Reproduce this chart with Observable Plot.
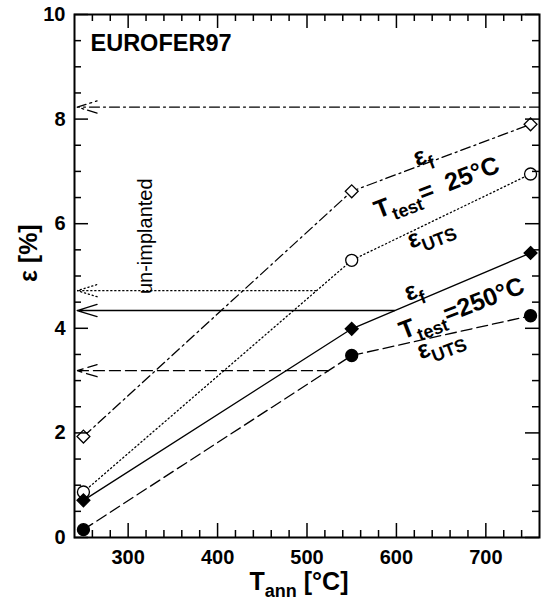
<!DOCTYPE html>
<html><head><meta charset="utf-8">
<script src="https://cdn.jsdelivr.net/npm/d3@7"></script>
<script src="https://cdn.jsdelivr.net/npm/@observablehq/plot@0.6"></script>
<style>body{margin:0;background:#fff}</style>
</head><body><div id="chart"></div>
<script>
// ---- data ----
const tAnn = [250, 550, 750];
const efTest25 = [1.93, 6.62, 7.90];
const eutsTest25 = [0.87, 5.30, 6.95];
const efTest250 = [0.71, 3.99, 5.44];
const eutsTest250 = [0.15, 3.48, 4.24];

// un-implanted reference values (arrows), same order as series
const unimplValues = [8.23, 4.72, 4.34, 3.19];
const unimplFromT = [760, 510, 598, 524];
const unimplToT = 243;

const xMajor = [300, 400, 500, 600, 700];
const xMinor = [260, 280, 320, 340, 360, 380, 420, 440, 460, 480, 520, 540, 560, 580, 620, 640, 660, 680, 720, 740];
const yMajor = [0, 2, 4, 6, 8, 10];
const yMinor = [0.5, 1, 1.5, 2.5, 3, 3.5, 4.5, 5, 5.5, 6.5, 7, 7.5, 8.5, 9, 9.5];

const seriesNames = ["ef25", "euts25", "ef250", "euts250"];
const seriesValues = [efTest25, eutsTest25, efTest250, eutsTest250];
const seriesDash = ["10,4,2,4", "1.2,2.8", null, "11,5"];
const seriesSymbol = ["diamond2", "circle", "diamond2", "circle"];
const seriesFill = ["white", "white", "black", "black"];

const annTexts = ["ε_{f}", "T_{test}=  25°C", "ε_{UTS}", "ε_{f}", "T_{test}=250°C", "ε_{UTS}"];
const annT = [629, 645, 638, 619, 673, 649];
const annE = [7.30, 6.69, 5.83, 4.72, 4.38, 3.71];

const FONT = "'Liberation Sans', Arial, Helvetica, sans-serif";
const W = 545, H = 603, ML = 74, MR = 6, MT = 14, MB = 66;
const PW = W - ML - MR, PH = H - MT - MB;
const MAJ = 14, MIN = 7;

const marks = [];
seriesNames.forEach((name, i) => {
  const data = tAnn.map((t, j) => ({t, v: seriesValues[i][j]}));
  marks.push(Plot.line(data, {x: "t", y: "v", stroke: "black", strokeWidth: 1.3, strokeDasharray: seriesDash[i]}));
  marks.push(Plot.arrow([{a: unimplFromT[i], b: unimplToT, v: unimplValues[i]}], {
    x1: "a", x2: "b", y1: "v", y2: "v", stroke: "black", strokeWidth: 1.3,
    strokeDasharray: seriesDash[i], headLength: 24, headAngle: 34
  }));
});
seriesNames.forEach((name, i) => {
  const data = tAnn.map((t, j) => ({t, v: seriesValues[i][j]}));
  marks.push(Plot.dot(data, {x: "t", y: "v", symbol: seriesSymbol[i], r: seriesSymbol[i] === "circle" ? 6 : 5.8,
    fill: seriesFill[i], stroke: "black", strokeWidth: 1.3}));
});

// annotations
const ann = annTexts.map((s, i) => ({s, t: annT[i], v: annE[i]}));
marks.push(Plot.text(ann, {x: "t", y: "v", text: "s", rotate: -21, fontSize: 25, fontWeight: "bold", fontFamily: FONT, fill: "black"}));
marks.push(Plot.text(["un-implanted"], {x: () => 319, y: () => 5.76, text: d => d, rotate: -90, fontSize: 20, fontFamily: FONT, fill: "black"}));
marks.push(Plot.text(["EUROFER97"], {frameAnchor: "top-left", text: d => d, dx: 16, dy: 20, lineAnchor: "top", textAnchor: "start", fontSize: 23.5, fontWeight: "bold", fontFamily: FONT, fill: "black"}));
marks.push(Plot.text(["T_{ann} [°C]"], {frameAnchor: "bottom", text: d => d, dx: -8, dy: 52, fontSize: 25, fontWeight: "bold", fontFamily: FONT, fill: "black"}));
marks.push(Plot.text(["ε [%]"], {frameAnchor: "left", text: d => d, dx: -46, dy: 6, rotate: -90, fontSize: 25, fontWeight: "bold", fontFamily: FONT, fill: "black"}));

// inward ticks on all four sides (rules inset from the frame)
const tk = {stroke: "black", strokeWidth: 1.5};
marks.push(Plot.ruleX(xMajor, {x: d => d, insetTop: PH - MAJ, ...tk}));
marks.push(Plot.ruleX(xMinor, {x: d => d, insetTop: PH - MIN, ...tk}));
marks.push(Plot.ruleX(xMajor, {x: d => d, insetBottom: PH - MAJ, ...tk}));
marks.push(Plot.ruleX(xMinor, {x: d => d, insetBottom: PH - MIN, ...tk}));
marks.push(Plot.ruleY(yMajor, {y: d => d, insetRight: PW - MAJ, ...tk}));
marks.push(Plot.ruleY(yMinor, {y: d => d, insetRight: PW - MIN, ...tk}));
marks.push(Plot.ruleY(yMajor, {y: d => d, insetLeft: PW - MAJ, ...tk}));
marks.push(Plot.ruleY(yMinor, {y: d => d, insetLeft: PW - MIN, ...tk}));

marks.push(Plot.axisX(xMajor, {anchor: "bottom", tickSize: 0, tickPadding: 12, fontSize: 20, fontWeight: "bold", fontFamily: FONT, label: null, tickFormat: d => String(d)}));
marks.push(Plot.axisY(yMajor, {anchor: "left", tickSize: 0, tickPadding: 9, fontSize: 20, fontWeight: "bold", fontFamily: FONT, label: null, tickFormat: d => String(d)}));
marks.push(Plot.frame({stroke: "black", strokeWidth: 2}));

const svg = Plot.plot({
  width: W, height: H,
  marginLeft: ML, marginRight: MR, marginTop: MT, marginBottom: MB,
  x: {domain: [240, 760], label: null},
  y: {domain: [0, 10], label: null},
  style: {background: "white", fontFamily: FONT},
  marks
});

// subscripts: "_{...}" -> tspan
const NS = "http://www.w3.org/2000/svg";
svg.querySelectorAll("text").forEach(t => {
  const s = t.textContent;
  if (!s.includes("_{")) return;
  const parts = s.split(/(_\{[^}]*\})/).filter(p => p !== "");
  t.textContent = "";
  let prevSub = false;
  parts.forEach(p => {
    const ts = document.createElementNS(NS, "tspan");
    if (p.startsWith("_{")) {
      ts.textContent = p.slice(2, -1);
      ts.setAttribute("font-size", "0.72em");
      ts.setAttribute("dy", (0.30 / 0.72).toFixed(3) + "em");
      prevSub = true;
    } else {
      ts.textContent = p;
      if (prevSub) ts.setAttribute("dy", "-0.30em");
      prevSub = false;
    }
    t.appendChild(ts);
  });
});
document.getElementById("chart").appendChild(svg);
</script>
</body></html>
